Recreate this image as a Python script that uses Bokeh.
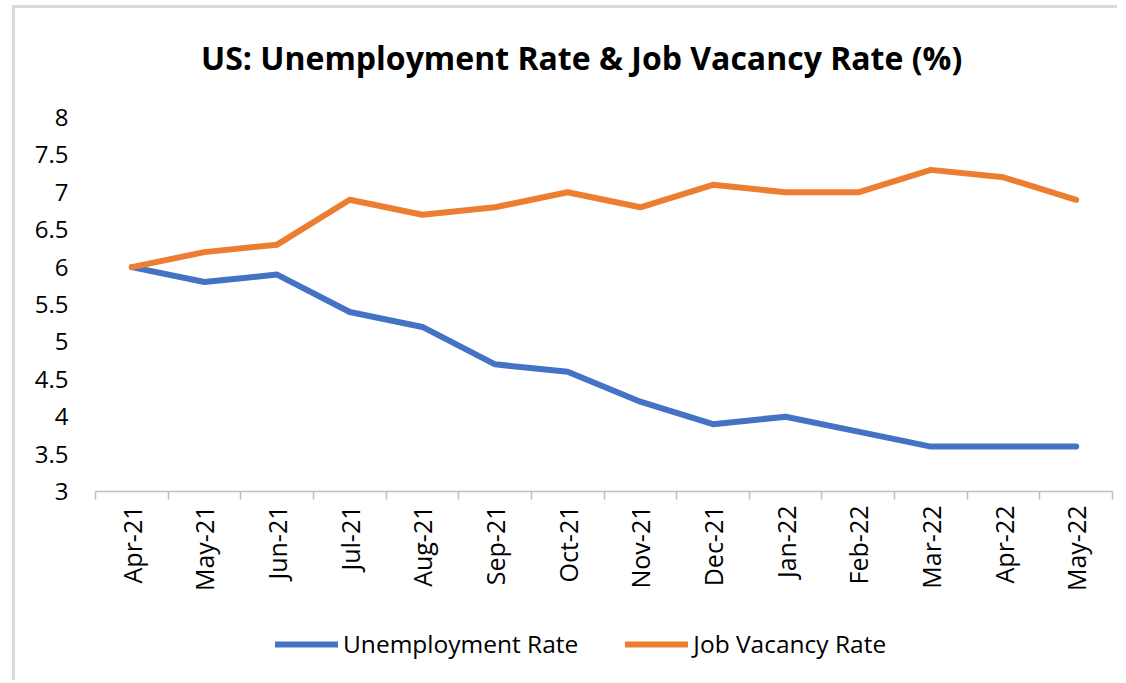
from bokeh.plotting import figure
from bokeh.models import FixedTicker, Range1d, Legend, LegendItem, Label
from bokeh.layouts import column
from bokeh.embed import file_html
from bokeh.resources import INLINE
import math

months = ["Apr-21", "May-21", "Jun-21", "Jul-21", "Aug-21", "Sep-21", "Oct-21",
          "Nov-21", "Dec-21", "Jan-22", "Feb-22", "Mar-22", "Apr-22", "May-22"]
unemployment = [6.0, 5.8, 5.9, 5.4, 5.2, 4.7, 4.6, 4.2, 3.9, 4.0, 3.8, 3.6, 3.6, 3.6]
vacancy = [6.0, 6.2, 6.3, 6.9, 6.7, 6.8, 7.0, 6.8, 7.1, 7.0, 7.0, 7.3, 7.2, 6.9]
y_ticks = [3, 3.5, 4, 4.5, 5, 5.5, 6, 6.5, 7, 7.5, 8]
series_names = ["Unemployment Rate", "Job Vacancy Rate"]
series_colors = ["#4472C4", "#ED7D31"]
title_text = "US: Unemployment Rate & Job Vacancy Rate (%)"

FONT = "Open Sans"
xs = list(range(len(months)))
W = 1105
BORDER = "3px solid #d9d9d9"
LW = 6
H_TOP = 90


def strip(height, margin, styles):
    f = figure(width=W, height=height, output_backend="svg", toolbar_location=None,
               x_range=Range1d(0, 1), y_range=Range1d(0, 1), tools="",
               min_border_left=0, min_border_right=0, min_border_top=0, min_border_bottom=0)
    f.margin = margin
    f.styles = styles
    f.outline_line_color = None
    f.axis.visible = False
    f.grid.visible = False
    return f


# title strip
t = strip(H_TOP, (5, 0, 0, 12), {"border-left": BORDER, "border-top": BORDER})
t.add_layout(Label(x=0.478, y=0.46, text=title_text, text_align="center",
                   text_baseline="middle", text_font=FONT, text_font_size="32px",
                   text_font_style="bold", text_color="#000000"))

# main chart
p = figure(width=W, height=607 - H_TOP, output_backend="svg", toolbar_location=None,
           x_range=Range1d(-0.5, len(months) - 0.5), y_range=Range1d(3, 8),
           min_border_left=80, min_border_right=8, min_border_top=112 - H_TOP,
           min_border_bottom=121, tools="")
p.margin = (0, 0, 0, 12)
p.styles = {"border-left": BORDER}
p.outline_line_color = None
p.grid.visible = False

p.line(xs, unemployment, line_color=series_colors[0], line_width=LW, line_cap="round", line_join="round")
p.line(xs, vacancy, line_color=series_colors[1], line_width=LW, line_cap="round", line_join="round")

# x axis
p.xaxis.ticker = FixedTicker(ticks=xs, minor_ticks=[i - 0.5 for i in range(len(months) + 1)])
p.xaxis.major_label_overrides = {i: m for i, m in enumerate(months)}
p.xaxis.major_label_orientation = math.pi / 2
p.xaxis.major_tick_line_color = None
p.xaxis.major_tick_out = 0
p.xaxis.major_tick_in = 0
p.xaxis.minor_tick_line_color = "#bfbfbf"
p.xaxis.minor_tick_line_width = 1.5
p.xaxis.minor_tick_out = 8
p.xaxis.minor_tick_in = 0
p.xaxis.axis_line_color = "#bfbfbf"
p.xaxis.axis_line_width = 1.5
p.xaxis.major_label_text_font = FONT
p.xaxis.major_label_text_font_size = "25px"
p.xaxis.major_label_text_color = "#000000"
p.xaxis.major_label_standoff = 6

# y axis
p.yaxis.ticker = FixedTicker(ticks=y_ticks)
p.yaxis.major_label_overrides = {v: ("%g" % v) for v in y_ticks}
p.yaxis.axis_line_color = None
p.yaxis.major_tick_line_color = None
p.yaxis.major_tick_out = 0
p.yaxis.major_tick_in = 0
p.yaxis.minor_tick_line_color = None
p.yaxis.major_label_text_font = FONT
p.yaxis.major_label_text_font_size = "24px"
p.yaxis.major_label_text_color = "#000000"
p.yaxis.major_label_standoff = 27

# legend strip below the chart (series drawn off-range, only their legend swatches show)
q = strip(68, (0, 0, 0, 12), {"border-left": BORDER})
items = []
for name, color, vals in zip(series_names, series_colors, [unemployment, vacancy]):
    rr = q.line(xs, vals, line_color=color, line_width=LW, line_cap="round")
    items.append(LegendItem(label=name, renderers=[rr]))
legend = Legend(items=items, orientation="horizontal", location=(180, 20))
legend.label_text_font = FONT
legend.label_text_font_size = "24.5px"
legend.label_text_color = "#000000"
legend.glyph_width = 63
legend.label_standoff = 5
legend.spacing = 47
legend.padding = 0
legend.margin = 0
legend.border_line_color = None
legend.background_fill_alpha = 0
q.add_layout(legend)

layout = column(t, p, q, spacing=0)
open("out.html", "w").write(file_html(layout, INLINE))
